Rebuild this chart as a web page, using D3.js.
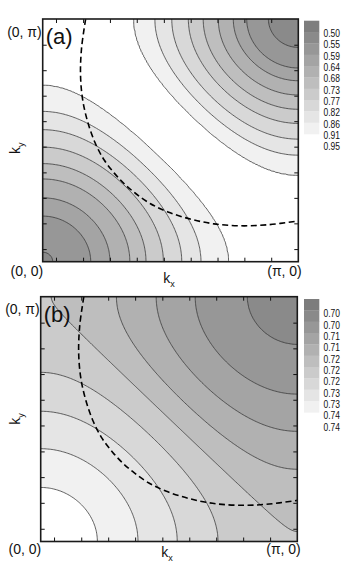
<!DOCTYPE html>
<html>
<head>
<meta charset="utf-8">
<script src="https://cdn.jsdelivr.net/npm/d3@7"></script>
<style>
body { margin: 0; background: #fff; }
text { font-family: "Liberation Sans", Arial, sans-serif; fill: #111; }
</style>
</head>
<body>
<div id="chart"></div>
<script>
var width = 353,
	height = 571;
var PI = Math.PI;

// contour levels (legend) for the two panels
var levelsA = [0.5, 0.5455, 0.5909, 0.6364, 0.6818, 0.7273, 0.7727, 0.8182, 0.8636, 0.9091, 0.9545];
var labelsA = ["0.50", "0.55", "0.59", "0.64", "0.68", "0.73", "0.77", "0.82", "0.86", "0.91", "0.95"];
var levelsB = [0.7005, 0.7045, 0.7085, 0.7125, 0.7165, 0.7205, 0.7245, 0.7285, 0.7325, 0.7365, 0.7405];
var labelsB = ["0.70", "0.70", "0.71", "0.71", "0.72", "0.72", "0.72", "0.73", "0.73", "0.74", "0.74"];

// where each level line meets the ky = 0 edge, in units of pi from (0,0)
var crossLowA = [null, null, 0.039, 0.188, 0.263, 0.341, 0.404, 0.472, 0.544, 0.619, 0.726];
// where each level line meets the ky = pi edge, in units of pi from (pi,pi)
var crossHighA = [null, null, 0.117, 0.202, 0.254, 0.313, 0.372, 0.430, 0.495, 0.561, 0.643];
var crossLowB = [null, null, null, null, null, null, null, 0.691, 0.532, 0.379, 0.221];
var crossHighB = [null, null, 0.195, 0.398, 0.550, 0.705, 0.959, null, null, null, null];

// values at the corners (0,0) and (pi,pi), and the top of the white ridge in (a)
var cornerA = [0.588, 0.567];
var cornerB = [0.7425, 0.7075];
var ridgeA = [-0.1, 0.975];

// gray fill of the legend bands, darkest first
var grays = ["#7d7d7d", "#8a8a8a", "#979797", "#a4a4a4", "#b1b1b1", "#bebebe", "#cbcbcb", "#d8d8d8", "#e5e5e5", "#f1f1f1"];

// dashed curve (kx, ky in units of pi)
var fsKx = [0.168, 0.152, 0.148, 0.156, 0.175, 0.205, 0.24, 0.28, 0.32, 0.365, 0.42, 0.49, 0.58, 0.67, 0.77, 0.88, 1.0];
var fsKy = [1.0, 0.88, 0.77, 0.67, 0.58, 0.49, 0.42, 0.365, 0.32, 0.28, 0.24, 0.205, 0.175, 0.156, 0.148, 0.152, 0.168];

// tick marks, in units of pi
var tickPos = [0.052, 0.158, 0.263, 0.368, 0.474, 0.579, 0.684, 0.789, 0.894];

var panels = [
	{ tag: "(a)", left: 42.7, right: 298.3, top: 19, bottom: 261.7, levels: levelsA, labels: labelsA,
	  low: crossLowA, high: crossHighA, corner: cornerA, ridge: ridgeA, barTop: 20.7, labTop: 33.3 },
	{ tag: "(b)", left: 40.7, right: 297.3, top: 296.7, bottom: 541.5, levels: levelsB, labels: labelsB,
	  low: crossLowB, high: crossHighB, corner: cornerB, ridge: null, barTop: 299, labTop: 313.5 }
];

var svg = d3.select("#chart")
	.append("svg")
	.attr("width", width)
	.attr("height", height);

panels.forEach(function(p, idx) {
	var xs = d3.scaleLinear().domain([0, PI]).range([p.left, p.right]);
	var ys = d3.scaleLinear().domain([0, PI]).range([p.bottom, p.top]);

	// level positions -> value as a function of cos kx + cos ky
	var stops = [];
	p.levels.forEach(function(v, i) {
		if (p.low[i] != null) stops.push([1 + Math.cos(PI * p.low[i]), v]);
		if (p.high[i] != null) stops.push([-1 - Math.cos(PI * p.high[i]), v]);
	});
	stops.push([2, p.corner[0]]);
	stops.push([-2, p.corner[1]]);
	if (p.ridge) stops.push(p.ridge);
	stops.sort(function(a, b) { return a[0] - b[0]; });
	var field = d3.scaleLinear()
		.domain(stops.map(function(d) { return d[0]; }))
		.range(stops.map(function(d) { return d[1]; }));

	var n = 181;
	var values = new Array(n * n);
	for (var j = 0; j < n; j++) {
		for (var i = 0; i < n; i++) {
			values[j * n + i] = field(Math.cos(i / (n - 1) * PI) + Math.cos(j / (n - 1) * PI));
		}
	}
	var contours = d3.contours().size([n, n]).thresholds(p.levels)(values);

	var path = d3.geoPath(d3.geoTransform({
		point: function(x, y) {
			this.stream.point(xs((x - 0.5) / (n - 1) * PI), ys((y - 0.5) / (n - 1) * PI));
		}
	}));

	var g = svg.append("g");
	var clipId = "clip" + idx;
	svg.append("clipPath").attr("id", clipId)
		.append("rect")
		.attr("x", p.left).attr("y", p.top)
		.attr("width", p.right - p.left).attr("height", p.bottom - p.top);

	var plot = g.append("g").attr("clip-path", "url(#" + clipId + ")");
	plot.append("rect")
		.attr("x", p.left).attr("y", p.top)
		.attr("width", p.right - p.left).attr("height", p.bottom - p.top)
		.attr("fill", grays[0]);

	plot.selectAll("path.band")
		.data(contours.slice(1))
		.enter()
		.append("path")
		.attr("class", "band")
		.attr("d", path)
		.attr("fill", function(d, i) { return i + 1 < grays.length ? grays[i + 1] : "#fff"; });

	plot.selectAll("path.iso")
		.data(contours.slice(1))
		.enter()
		.append("path")
		.attr("class", "iso")
		.attr("d", path)
		.attr("fill", "none")
		.attr("stroke", "#3a3a3a")
		.attr("stroke-width", 0.8);

	var fs = fsKx.map(function(d, i) { return [d * PI, fsKy[i] * PI]; });
	plot.append("path")
		.datum(fs)
		.attr("d", d3.line()
			.x(function(d) { return xs(d[0]); })
			.y(function(d) { return ys(d[1]); })
			.curve(d3.curveCatmullRom))
		.attr("fill", "none")
		.attr("stroke", "#000")
		.attr("stroke-width", 1.6)
		.attr("stroke-dasharray", "6,3.5");

	// inward ticks on all four sides
	var tv = tickPos.map(function(t) { return t * PI; });
	function noDomain(s) { s.select(".domain").remove(); s.selectAll("line").attr("stroke", "#111"); }
	g.append("g").attr("transform", "translate(0," + p.bottom + ")")
		.call(d3.axisBottom(xs).tickValues(tv).tickSize(-4).tickFormat("")).call(noDomain);
	g.append("g").attr("transform", "translate(0," + p.top + ")")
		.call(d3.axisTop(xs).tickValues(tv).tickSize(-4).tickFormat("")).call(noDomain);
	g.append("g").attr("transform", "translate(" + p.left + ",0)")
		.call(d3.axisLeft(ys).tickValues(tv).tickSize(-4).tickFormat("")).call(noDomain);
	g.append("g").attr("transform", "translate(" + p.right + ",0)")
		.call(d3.axisRight(ys).tickValues(tv).tickSize(-4).tickFormat("")).call(noDomain);

	g.append("rect")
		.attr("x", p.left).attr("y", p.top)
		.attr("width", p.right - p.left).attr("height", p.bottom - p.top)
		.attr("fill", "none")
		.attr("stroke", "#1a1a1a")
		.attr("stroke-width", 1.6);

	// corner labels
	g.append("text").attr("x", p.left - 1).attr("y", p.top + 17.5)
		.attr("text-anchor", "end").attr("font-size", 14).text("(0, \u03c0)");
	g.append("text").attr("x", p.left + 0.5).attr("y", p.bottom + (idx ? 12.5 : 14))
		.attr("text-anchor", "end").attr("font-size", 14).text("(0, 0)");
	g.append("text").attr("x", p.right + 3.5).attr("y", p.bottom + (idx ? 12.5 : 14))
		.attr("text-anchor", "end").attr("font-size", 14).text("(\u03c0, 0)");
	g.append("text").attr("x", p.left + 3).attr("y", p.top + 25)
		.attr("font-size", 22).text(p.tag);

	// axis titles
	var kx = g.append("text").attr("x", p.left + 120.5).attr("y", p.bottom + (idx ? 15.5 : 21.5))
		.attr("font-size", 14);
	kx.append("tspan").text("k");
	kx.append("tspan").attr("font-size", 9).attr("dy", 4).text("x");
	var cy = (p.top + p.bottom) / 2 + (idx ? 0 : 8);
	var ky = g.append("text")
		.attr("transform", "translate(20," + cy + ") rotate(-90)")
		.attr("text-anchor", "middle")
		.attr("font-size", 14);
	ky.append("tspan").text("k");
	ky.append("tspan").attr("font-size", 9).attr("dy", 4).text("y");

	// legend
	var leg = g.append("g").attr("class", "leg");
	var ly = d3.scaleLinear().domain([0, 10]).range([p.barTop, p.barTop + 113.3]);
	leg.selectAll("rect")
		.data(grays)
		.enter()
		.append("rect")
		.attr("x", 304)
		.attr("y", function(d, i) { return ly(i); })
		.attr("width", 15.3)
		.attr("height", ly(1) - ly(0) + 0.3)
		.attr("fill", function(d) { return d; });
	var lt = d3.scaleLinear().domain([0, 10]).range([p.labTop, p.labTop + 113.3]);
	leg.selectAll("text")
		.data(p.labels)
		.enter()
		.append("text")
		.attr("x", 323.5)
		.attr("y", function(d, i) { return lt(i); })
		.attr("dy", "0.36em")
		.attr("font-size", 10.5)
		.attr("textLength", 16.5)
		.attr("lengthAdjust", "spacingAndGlyphs")
		.text(function(d) { return d; });
});
</script>
</body>
</html>
